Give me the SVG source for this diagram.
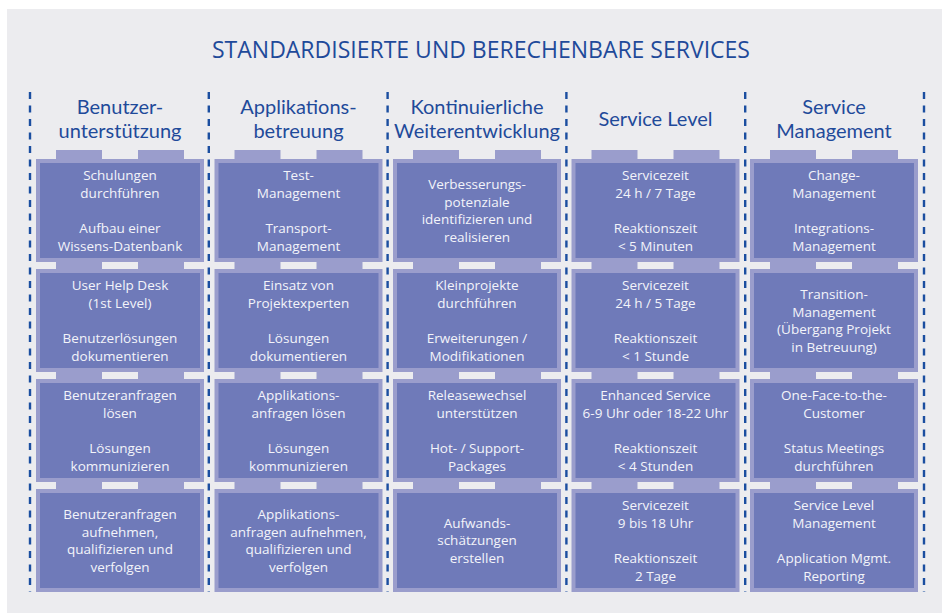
<svg xmlns="http://www.w3.org/2000/svg" xmlns:xlink="http://www.w3.org/1999/xlink" width="942" height="613" viewBox="0 0 942 613">
<style>
.bg{fill:#ececef}
.title{font-family:"Open Sans","Noto Sans",sans-serif;font-size:23px;fill:#1f4a9a;text-anchor:middle}
.head{font-family:Lato,"Open Sans",sans-serif;font-size:20px;fill:#1f4a9a;text-anchor:middle}
.t{font-family:"Open Sans","Noto Sans",sans-serif;font-size:13.5px;fill:#f3f4fa;text-anchor:middle}
.div{stroke:#1b4ea0;stroke-width:2.4;stroke-dasharray:7 6.5;fill:none}
.outer{fill:#9a9dcc}
.inner{fill:#6f7ab9}
.tab{fill:#9a9dcc}
</style>
<defs>
<g id="boxshape">
<rect class="outer" x="0" y="0" width="168" height="103"/>
<rect class="inner" x="4" y="4" width="160" height="95"/>
</g>
<g id="tabs9">
<rect class="tab" x="20" y="0" width="46" height="9"/>
<rect class="tab" x="102" y="0" width="46" height="9"/>
</g>
<g id="tabs7">
<rect class="tab" x="20" y="0" width="46" height="7"/>
<rect class="tab" x="102" y="0" width="46" height="7"/>
</g>
</defs>
<rect class="bg" x="7" y="9" width="935" height="604"/>
<text class="title" x="481" y="58">STANDARDISIERTE UND BERECHENBARE SERVICES</text>
<g id="connectors">
<line class="div" x1="30" y1="92" x2="30" y2="592"/>
<line class="div" x1="208.8" y1="92" x2="208.8" y2="592"/>
<line class="div" x1="387.6" y1="92" x2="387.6" y2="592"/>
<line class="div" x1="566.4" y1="92" x2="566.4" y2="592"/>
<line class="div" x1="745.2" y1="92" x2="745.2" y2="592"/>
<line class="div" x1="924" y1="92" x2="924" y2="592"/>
</g>
<g id="headers">
<text class="head" x="120" y="113.5">Benutzer-</text>
<text class="head" x="120" y="137.5">unterstützung</text>
<text class="head" x="298.5" y="113.5">Applikations-</text>
<text class="head" x="298.5" y="137.5">betreuung</text>
<text class="head" x="477" y="113.5">Kontinuierliche</text>
<text class="head" x="477" y="137.5">Weiterentwicklung</text>
<text class="head" x="655.5" y="126">Service Level</text>
<text class="head" x="834" y="113.5">Service</text>
<text class="head" x="834" y="137.5">Management</text>
</g>
<g id="tabs">
<use xlink:href="#tabs9" x="36" y="150"/><use xlink:href="#tabs7" x="36" y="262"/><use xlink:href="#tabs7" x="36" y="372"/><use xlink:href="#tabs7" x="36" y="482"/>
<use xlink:href="#tabs9" x="214.5" y="150"/><use xlink:href="#tabs7" x="214.5" y="262"/><use xlink:href="#tabs7" x="214.5" y="372"/><use xlink:href="#tabs7" x="214.5" y="482"/>
<use xlink:href="#tabs9" x="393" y="150"/><use xlink:href="#tabs7" x="393" y="262"/><use xlink:href="#tabs7" x="393" y="372"/><use xlink:href="#tabs7" x="393" y="482"/>
<use xlink:href="#tabs9" x="571.5" y="150"/><use xlink:href="#tabs7" x="571.5" y="262"/><use xlink:href="#tabs7" x="571.5" y="372"/><use xlink:href="#tabs7" x="571.5" y="482"/>
<use xlink:href="#tabs9" x="750" y="150"/><use xlink:href="#tabs7" x="750" y="262"/><use xlink:href="#tabs7" x="750" y="372"/><use xlink:href="#tabs7" x="750" y="482"/>
</g>

<g id="c1r1"><use xlink:href="#boxshape" x="36" y="159"/>
<text class="t"><tspan x="120" y="180">Schulungen</tspan><tspan x="120" dy="17.7">durchführen</tspan><tspan x="120" dy="35.4">Aufbau einer</tspan><tspan x="120" dy="17.7">Wissens-Datenbank</tspan></text></g>
<g id="c1r2"><use xlink:href="#boxshape" x="36" y="269"/>
<text class="t"><tspan x="120" y="290">User Help Desk</tspan><tspan x="120" dy="17.7">(1st Level)</tspan><tspan x="120" dy="35.4">Benutzerlösungen</tspan><tspan x="120" dy="17.7">dokumentieren</tspan></text></g>
<g id="c1r3"><use xlink:href="#boxshape" x="36" y="379"/>
<text class="t"><tspan x="120" y="400">Benutzeranfragen</tspan><tspan x="120" dy="17.7">lösen</tspan><tspan x="120" dy="35.4">Lösungen</tspan><tspan x="120" dy="17.7">kommunizieren</tspan></text></g>
<g id="c1r4"><use xlink:href="#boxshape" x="36" y="489"/>
<text class="t"><tspan x="120" y="518.8">Benutzeranfragen</tspan><tspan x="120" dy="17.7">aufnehmen,</tspan><tspan x="120" dy="17.7">qualifizieren und</tspan><tspan x="120" dy="17.7">verfolgen</tspan></text></g>

<g id="c2r1"><use xlink:href="#boxshape" x="214.5" y="159"/>
<text class="t"><tspan x="298.5" y="180">Test-</tspan><tspan x="298.5" dy="17.7">Management</tspan><tspan x="298.5" dy="35.4">Transport-</tspan><tspan x="298.5" dy="17.7">Management</tspan></text></g>
<g id="c2r2"><use xlink:href="#boxshape" x="214.5" y="269"/>
<text class="t"><tspan x="298.5" y="290">Einsatz von</tspan><tspan x="298.5" dy="17.7">Projektexperten</tspan><tspan x="298.5" dy="35.4">Lösungen</tspan><tspan x="298.5" dy="17.7">dokumentieren</tspan></text></g>
<g id="c2r3"><use xlink:href="#boxshape" x="214.5" y="379"/>
<text class="t"><tspan x="298.5" y="400">Applikations-</tspan><tspan x="298.5" dy="17.7">anfragen lösen</tspan><tspan x="298.5" dy="35.4">Lösungen</tspan><tspan x="298.5" dy="17.7">kommunizieren</tspan></text></g>
<g id="c2r4"><use xlink:href="#boxshape" x="214.5" y="489"/>
<text class="t"><tspan x="298.5" y="518.8">Applikations-</tspan><tspan x="298.5" dy="17.7">anfragen aufnehmen,</tspan><tspan x="298.5" dy="17.7">qualifizieren und</tspan><tspan x="298.5" dy="17.7">verfolgen</tspan></text></g>

<g id="c3r1"><use xlink:href="#boxshape" x="393" y="159"/>
<text class="t"><tspan x="477" y="188.8">Verbesserungs-</tspan><tspan x="477" dy="17.7">potenziale</tspan><tspan x="477" dy="17.7">identifizieren und</tspan><tspan x="477" dy="17.7">realisieren</tspan></text></g>
<g id="c3r2"><use xlink:href="#boxshape" x="393" y="269"/>
<text class="t"><tspan x="477" y="290">Kleinprojekte</tspan><tspan x="477" dy="17.7">durchführen</tspan><tspan x="477" dy="35.4">Erweiterungen /</tspan><tspan x="477" dy="17.7">Modifikationen</tspan></text></g>
<g id="c3r3"><use xlink:href="#boxshape" x="393" y="379"/>
<text class="t"><tspan x="477" y="400">Releasewechsel</tspan><tspan x="477" dy="17.7">unterstützen</tspan><tspan x="477" dy="35.4">Hot- / Support-</tspan><tspan x="477" dy="17.7">Packages</tspan></text></g>
<g id="c3r4"><use xlink:href="#boxshape" x="393" y="489"/>
<text class="t"><tspan x="477" y="527.7">Aufwands-</tspan><tspan x="477" dy="17.7">schätzungen</tspan><tspan x="477" dy="17.7">erstellen</tspan></text></g>

<g id="c4r1"><use xlink:href="#boxshape" x="571.5" y="159"/>
<text class="t"><tspan x="655.5" y="180">Servicezeit</tspan><tspan x="655.5" dy="17.7">24 h / 7 Tage</tspan><tspan x="655.5" dy="35.4">Reaktionszeit</tspan><tspan x="655.5" dy="17.7">&lt; 5 Minuten</tspan></text></g>
<g id="c4r2"><use xlink:href="#boxshape" x="571.5" y="269"/>
<text class="t"><tspan x="655.5" y="290">Servicezeit</tspan><tspan x="655.5" dy="17.7">24 h / 5 Tage</tspan><tspan x="655.5" dy="35.4">Reaktionszeit</tspan><tspan x="655.5" dy="17.7">&lt; 1 Stunde</tspan></text></g>
<g id="c4r3"><use xlink:href="#boxshape" x="571.5" y="379"/>
<text class="t"><tspan x="655.5" y="400">Enhanced Service</tspan><tspan x="655.5" dy="17.7">6-9 Uhr oder 18-22 Uhr</tspan><tspan x="655.5" dy="35.4">Reaktionszeit</tspan><tspan x="655.5" dy="17.7">&lt; 4 Stunden</tspan></text></g>
<g id="c4r4"><use xlink:href="#boxshape" x="571.5" y="489"/>
<text class="t"><tspan x="655.5" y="510">Servicezeit</tspan><tspan x="655.5" dy="17.7">9 bis 18 Uhr</tspan><tspan x="655.5" dy="35.4">Reaktionszeit</tspan><tspan x="655.5" dy="17.7">2 Tage</tspan></text></g>

<g id="c5r1"><use xlink:href="#boxshape" x="750" y="159"/>
<text class="t"><tspan x="834" y="180">Change-</tspan><tspan x="834" dy="17.7">Management</tspan><tspan x="834" dy="35.4">Integrations-</tspan><tspan x="834" dy="17.7">Management</tspan></text></g>
<g id="c5r2"><use xlink:href="#boxshape" x="750" y="269"/>
<text class="t"><tspan x="834" y="298.8">Transition-</tspan><tspan x="834" dy="17.7">Management</tspan><tspan x="834" dy="17.7">(Übergang Projekt</tspan><tspan x="834" dy="17.7">in Betreuung)</tspan></text></g>
<g id="c5r3"><use xlink:href="#boxshape" x="750" y="379"/>
<text class="t"><tspan x="834" y="400">One-Face-to-the-</tspan><tspan x="834" dy="17.7">Customer</tspan><tspan x="834" dy="35.4">Status Meetings</tspan><tspan x="834" dy="17.7">durchführen</tspan></text></g>
<g id="c5r4"><use xlink:href="#boxshape" x="750" y="489"/>
<text class="t"><tspan x="834" y="510">Service Level</tspan><tspan x="834" dy="17.7">Management</tspan><tspan x="834" dy="35.4">Application Mgmt.</tspan><tspan x="834" dy="17.7">Reporting</tspan></text></g>
</svg>
